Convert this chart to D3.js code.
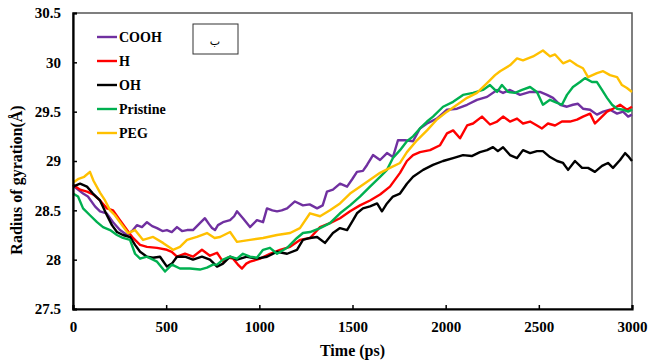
<!DOCTYPE html>
<html>
<head>
<meta charset="utf-8">
<script src="https://cdn.jsdelivr.net/npm/d3@7"></script>
<style>
  html, body { margin: 0; padding: 0; background: #fff; }
  svg text { font-family: "Liberation Serif", "Times New Roman", serif; font-weight: bold; fill: #000; }
</style>
</head>
<body>
<svg id="chart" width="661" height="362"></svg>
<script>
// Radius of gyration over simulation time, one [time (ps), Rg (Å)] list per system
const cooh = [[0,28.75],[20,28.72],[54,28.67],[80,28.64],[118,28.54],[145,28.49],[180,28.47],[215,28.38],[252,28.30],[290,28.25],[322,28.30],[343,28.35],[370,28.33],[397,28.38],[425,28.34],[451,28.32],[480,28.29],[504,28.30],[530,28.28],[558,28.33],[585,28.29],[612,28.30],[644,28.30],[681,28.37],[708,28.42],[730,28.36],[746,28.32],[762,28.30],[778,28.35],[805,28.38],[843,28.40],[865,28.44],[880,28.49],[912,28.42],[950,28.33],[987,28.40],[1020,28.38],[1041,28.52],[1070,28.50],[1095,28.49],[1120,28.50],[1149,28.52],[1191,28.59],[1234,28.55],[1270,28.56],[1310,28.52],[1340,28.55],[1363,28.69],[1395,28.71],[1433,28.77],[1471,28.74],[1500,28.82],[1524,28.89],[1556,28.90],[1578,28.96],[1610,29.06],[1648,29.01],[1685,29.08],[1717,29.04],[1744,29.21],[1782,29.21],[1825,29.20],[1862,29.33],[1900,29.38],[1953,29.43],[2007,29.52],[2061,29.53],[2115,29.57],[2168,29.62],[2222,29.65],[2276,29.72],[2308,29.69],[2345,29.72],[2399,29.67],[2453,29.70],[2506,29.70],[2544,29.67],[2576,29.64],[2614,29.57],[2651,29.55],[2683,29.57],[2710,29.58],[2737,29.53],[2775,29.52],[2812,29.47],[2845,29.50],[2882,29.52],[2920,29.48],[2952,29.50],[2979,29.45],[3000,29.47]];

const hydrogen = [[0,28.76],[38,28.71],[75,28.69],[110,28.66],[145,28.60],[182,28.52],[215,28.50],[252,28.40],[290,28.30],[322,28.22],[360,28.15],[397,28.13],[451,28.12],[504,28.10],[530,28.08],[558,28.03],[601,28.06],[644,28.03],[692,28.10],[735,28.04],[773,28.07],[805,27.98],[830,28.02],[859,28.01],[885,27.95],[907,27.91],[930,27.96],[950,27.98],[1004,28.01],[1057,28.06],[1111,28.10],[1165,28.13],[1218,28.20],[1272,28.22],[1326,28.33],[1379,28.37],[1433,28.42],[1487,28.49],[1540,28.55],[1594,28.60],[1648,28.66],[1701,28.74],[1755,28.88],[1792,29.00],[1825,29.06],[1862,29.09],[1916,29.11],[1970,29.16],[2007,29.28],[2040,29.31],[2077,29.23],[2115,29.36],[2147,29.38],[2195,29.45],[2238,29.37],[2276,29.40],[2308,29.45],[2345,29.40],[2383,29.43],[2415,29.38],[2453,29.40],[2490,29.36],[2517,29.33],[2549,29.38],[2587,29.36],[2624,29.40],[2667,29.40],[2705,29.42],[2737,29.45],[2775,29.48],[2801,29.38],[2828,29.43],[2866,29.50],[2898,29.53],[2936,29.57],[2973,29.52],[3000,29.55]];

const hydroxyl = [[0,28.74],[38,28.77],[75,28.74],[107,28.67],[145,28.60],[182,28.45],[209,28.35],[236,28.28],[268,28.25],[306,28.23],[333,28.15],[360,28.08],[397,28.03],[429,28.02],[467,28.03],[504,27.93],[531,27.96],[558,28.03],[601,28.03],[644,28.00],[692,28.03],[735,28.00],[773,27.93],[805,27.96],[843,28.03],[880,28.00],[934,28.03],[987,28.01],[1041,28.03],[1095,28.08],[1149,28.06],[1202,28.10],[1234,28.20],[1272,28.22],[1310,28.23],[1352,28.17],[1395,28.27],[1433,28.32],[1471,28.30],[1503,28.40],[1524,28.47],[1556,28.52],[1594,28.54],[1632,28.57],[1658,28.49],[1685,28.57],[1717,28.64],[1755,28.67],[1792,28.77],[1825,28.84],[1879,28.91],[1932,28.96],[1986,29.00],[2040,29.03],[2093,29.06],[2140,29.05],[2184,29.09],[2222,29.11],[2254,29.14],[2280,29.10],[2308,29.14],[2345,29.06],[2383,29.03],[2415,29.11],[2453,29.08],[2490,29.10],[2522,29.10],[2560,29.04],[2598,29.00],[2630,28.98],[2657,28.91],[2694,29.00],[2732,28.93],[2764,28.93],[2801,28.89],[2839,28.95],[2871,28.98],[2898,28.93],[2936,29.01],[2963,29.08],[2979,29.05],[3000,29.00]];

const pristine = [[0,28.67],[27,28.64],[54,28.52],[91,28.45],[129,28.38],[161,28.33],[199,28.30],[236,28.25],[268,28.22],[306,28.20],[333,28.06],[360,28.01],[397,28.03],[451,27.98],[494,27.88],[531,27.95],[574,27.91],[628,27.91],[681,27.90],[719,27.92],[751,27.95],[773,27.95],[805,28.00],[843,28.03],[880,28.01],[912,28.06],[950,28.03],[987,28.02],[1020,28.10],[1057,28.12],[1095,28.06],[1149,28.12],[1202,28.22],[1234,28.27],[1272,28.28],[1326,28.32],[1379,28.37],[1433,28.47],[1487,28.55],[1540,28.64],[1594,28.74],[1648,28.84],[1685,28.91],[1717,29.03],[1755,29.11],[1792,29.20],[1825,29.25],[1862,29.33],[1900,29.40],[1932,29.45],[1986,29.55],[2040,29.60],[2093,29.67],[2147,29.69],[2200,29.72],[2238,29.77],[2276,29.70],[2302,29.77],[2335,29.70],[2372,29.69],[2410,29.72],[2453,29.75],[2490,29.70],[2522,29.57],[2560,29.62],[2598,29.59],[2624,29.57],[2651,29.67],[2683,29.75],[2721,29.80],[2748,29.84],[2785,29.80],[2812,29.80],[2839,29.72],[2866,29.64],[2893,29.57],[2920,29.53],[2952,29.52],[2979,29.50],[3000,29.52]];

const peg = [[0,28.78],[30,28.82],[60,28.84],[91,28.89],[110,28.80],[145,28.68],[172,28.60],[199,28.50],[225,28.45],[252,28.38],[295,28.27],[333,28.30],[376,28.20],[430,28.23],[483,28.17],[537,28.10],[574,28.13],[612,28.20],[665,28.23],[719,28.27],[760,28.22],[789,28.23],[843,28.28],[880,28.18],[950,28.20],[1020,28.22],[1095,28.25],[1165,28.27],[1218,28.32],[1272,28.47],[1326,28.44],[1379,28.50],[1433,28.57],[1487,28.67],[1540,28.74],[1594,28.81],[1648,28.88],[1701,28.93],[1755,28.98],[1792,29.09],[1846,29.21],[1900,29.31],[1953,29.42],[2007,29.50],[2061,29.57],[2115,29.64],[2168,29.69],[2222,29.79],[2265,29.87],[2292,29.91],[2345,29.97],[2383,30.04],[2415,30.02],[2469,30.06],[2522,30.12],[2560,30.06],[2587,30.08],[2630,29.99],[2667,30.02],[2705,29.97],[2737,29.94],[2764,29.85],[2812,29.89],[2845,29.91],[2882,29.87],[2920,29.85],[2946,29.77],[2973,29.74],[3000,29.70]];

const seriesNames = ["COOH", "H", "OH", "Pristine", "PEG"];
const seriesColors = ["#7030A0", "#FF0000", "#000000", "#00B050", "#FFC000"];
const seriesData = [cooh, hydrogen, hydroxyl, pristine, peg];

const xTicks = [0, 500, 1000, 1500, 2000, 2500, 3000];
const yTicks = [27.5, 28, 28.5, 29, 29.5, 30, 30.5];

const svg = d3.select("#chart");
const plot = { left: 73, top: 13, width: 559, height: 296 };

const x = d3.scaleLinear().domain([0, 3000]).range([plot.left, plot.left + plot.width]);
const y = d3.scaleLinear().domain([27.5, 30.5]).range([plot.top + plot.height, plot.top]);

// plot frame (top/right edges)
svg.append("rect")
  .attr("x", plot.left).attr("y", plot.top)
  .attr("width", plot.width).attr("height", plot.height)
  .attr("fill", "none").attr("stroke", "#555").attr("stroke-width", 1.5);

// series lines
const line = d3.line().x(d => x(d[0])).y(d => y(d[1]));
seriesData.forEach((data, i) => {
  svg.append("path")
    .datum(data)
    .attr("d", line)
    .attr("fill", "none")
    .attr("stroke", seriesColors[i])
    .attr("stroke-width", 2.4)
    .attr("stroke-linejoin", "round");
});

// axes with inward ticks
const xAxis = svg.append("g")
  .attr("transform", `translate(0,${plot.top + plot.height})`)
  .call(d3.axisBottom(x).tickValues(xTicks).tickSize(-4).tickPadding(12).tickFormat(d => String(d)));
const yAxis = svg.append("g")
  .attr("transform", `translate(${plot.left},0)`)
  .call(d3.axisLeft(y).tickValues(yTicks).tickSize(-4).tickPadding(12).tickFormat(d => String(d)));

[xAxis, yAxis].forEach(g => {
  g.select(".domain").attr("stroke", "#000").attr("stroke-width", 2.2);
  g.selectAll(".tick line").attr("stroke", "#000").attr("stroke-width", 1.5);
  g.selectAll(".tick text")
    .style("font-family", '"Liberation Serif", serif')
    .style("font-weight", "bold")
    .style("font-size", "15px")
    .attr("fill", "#000");
});

// axis titles
svg.append("text")
  .attr("x", x(1500)).attr("y", 356)
  .attr("text-anchor", "middle")
  .style("font-size", "16px")
  .text("Time (ps)");

svg.append("text")
  .attr("transform", `translate(22,${180}) rotate(-90)`)
  .attr("text-anchor", "middle")
  .style("font-size", "16px")
  .text("Radius of gyration(Å)");

// legend
const legend = svg.append("g").attr("transform", "translate(97,37)");
seriesNames.forEach((name, i) => {
  const row = legend.append("g").attr("transform", `translate(0,${i * 24})`);
  row.append("line")
    .attr("x1", 0).attr("x2", 20).attr("y1", 0).attr("y2", 0)
    .attr("stroke", seriesColors[i]).attr("stroke-width", 2.4);
  row.append("text")
    .attr("x", 22).attr("y", 5)
    .style("font-size", "14px")
    .text(name);
});

// panel label box
svg.append("rect")
  .attr("x", 193).attr("y", 24).attr("width", 45).attr("height", 30)
  .attr("fill", "#fff").attr("stroke", "#333").attr("stroke-width", 1);
svg.append("text")
  .attr("x", 215).attr("y", 45)
  .attr("text-anchor", "middle")
  .style("font-family", '"DejaVu Sans", sans-serif')
  .style("font-weight", "normal")
  .style("font-size", "11px")
  .text("ب");
</script>
</body>
</html>
